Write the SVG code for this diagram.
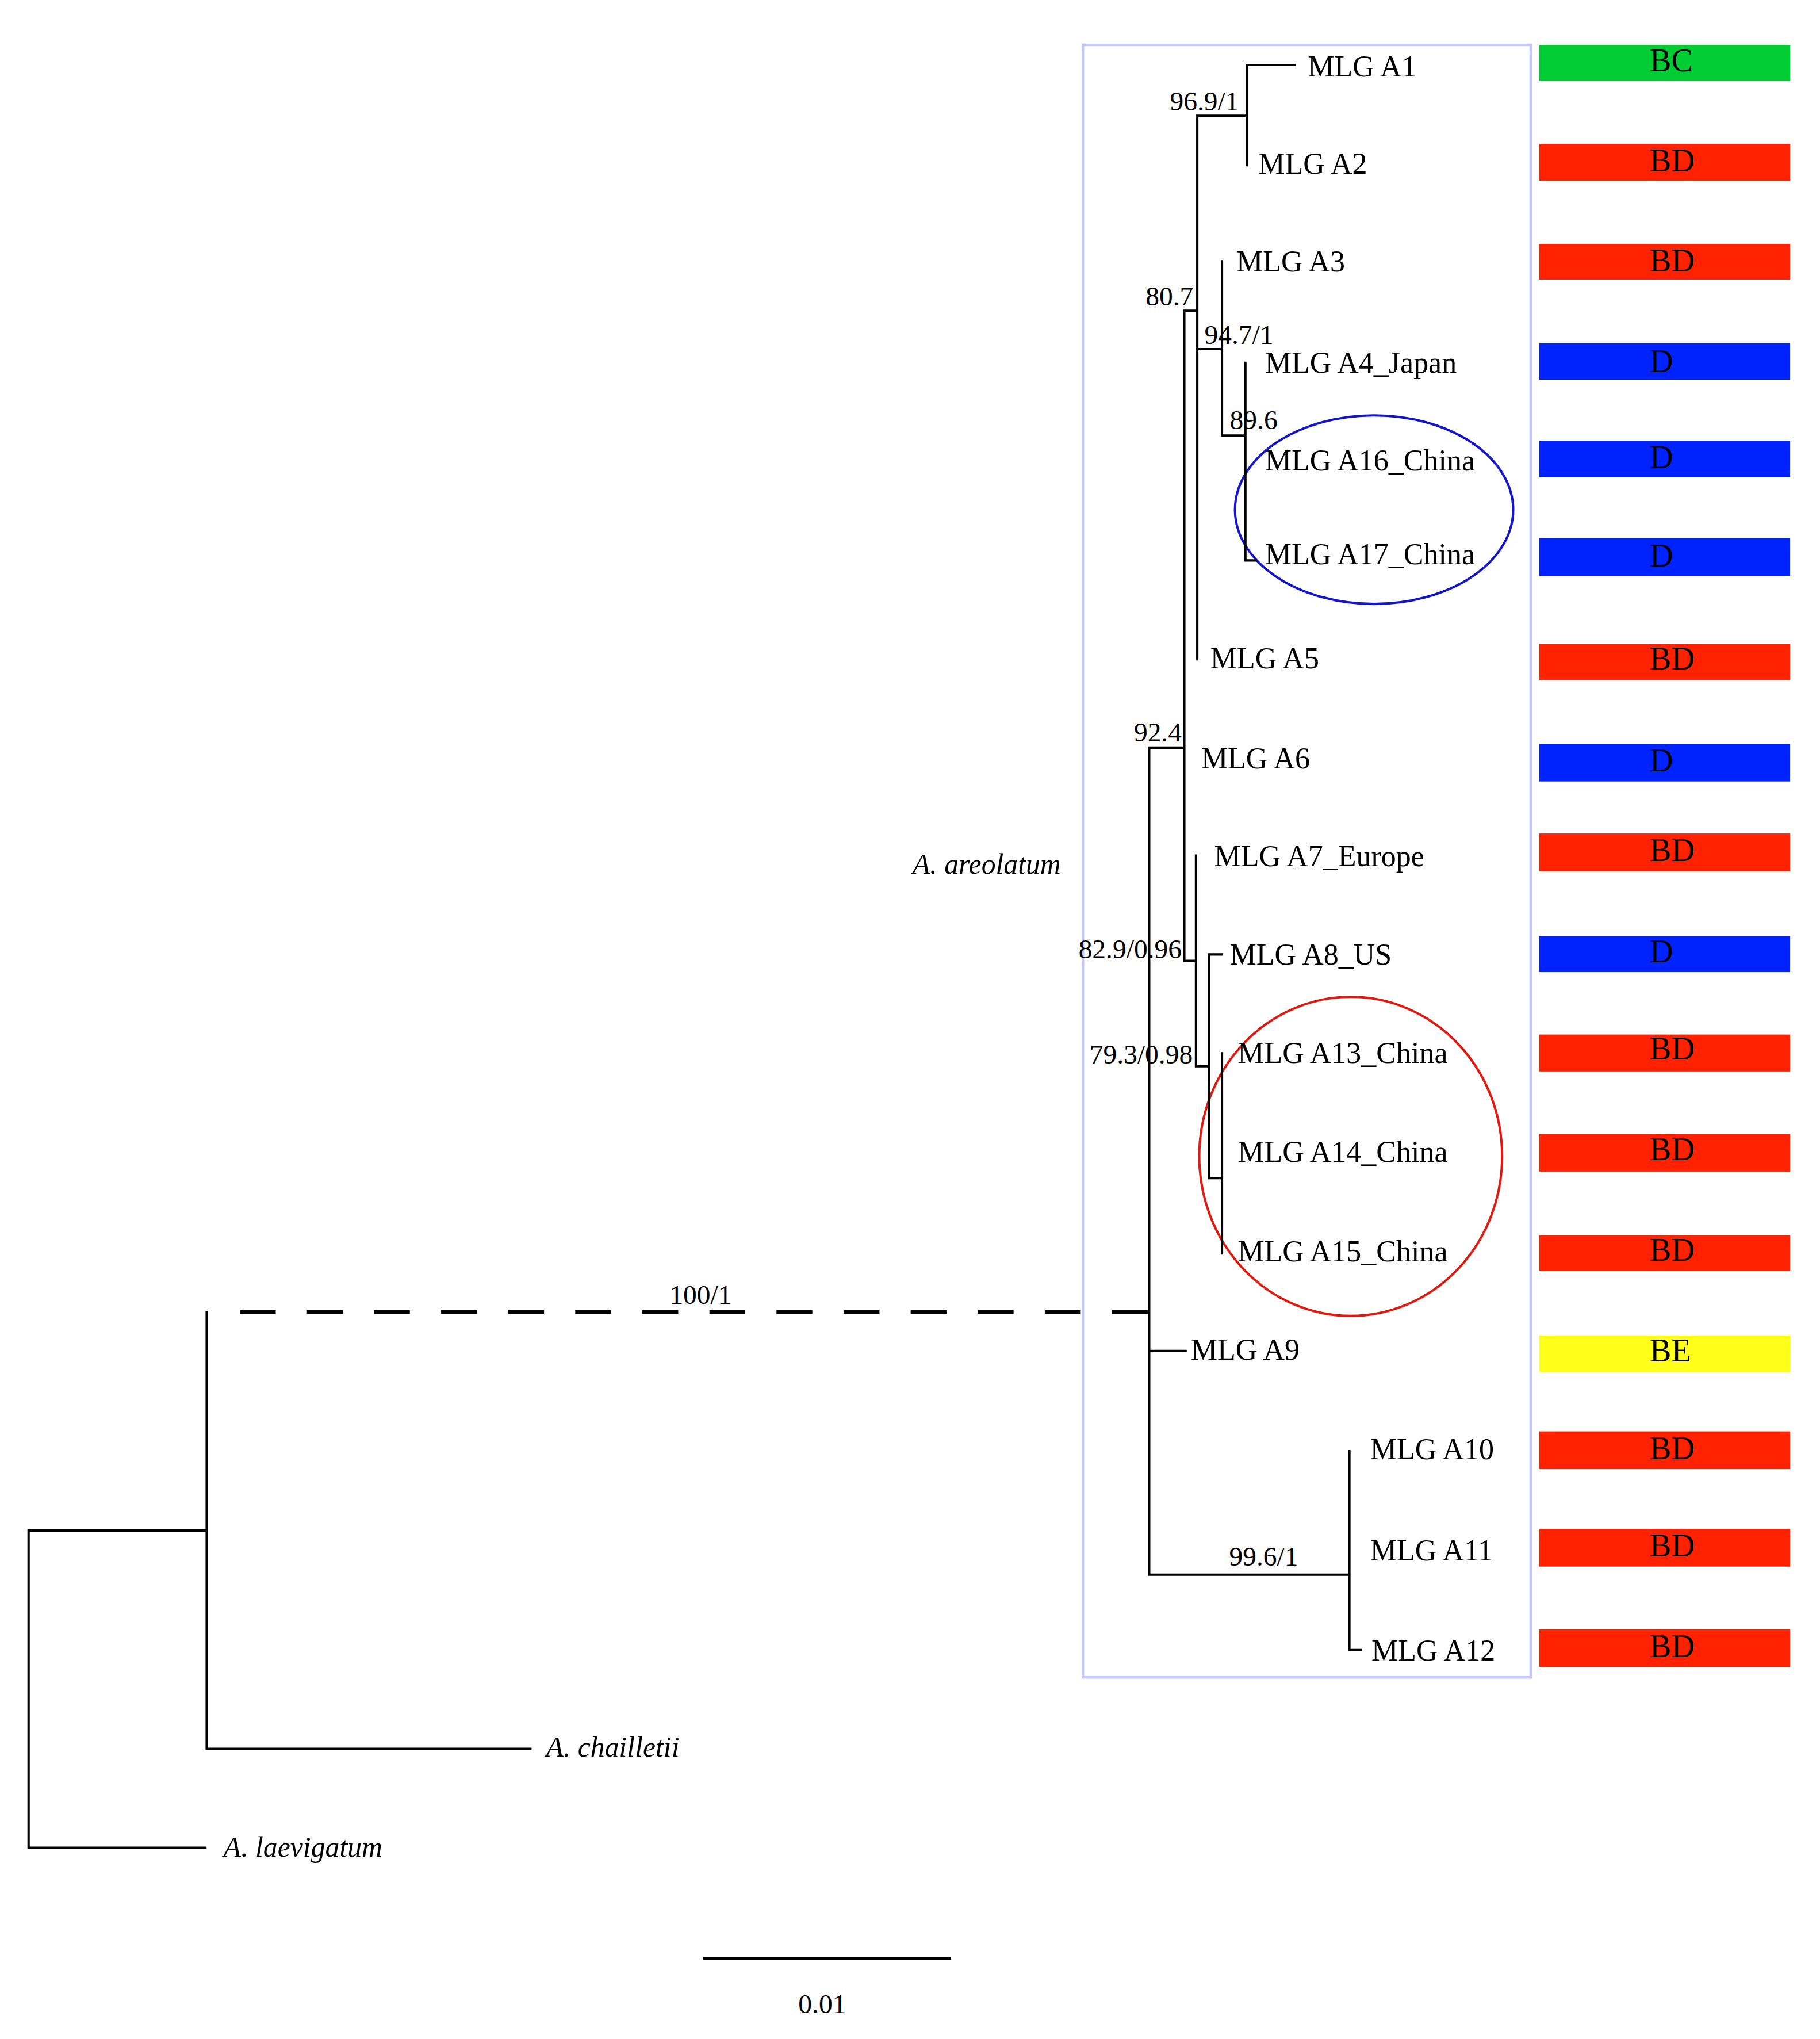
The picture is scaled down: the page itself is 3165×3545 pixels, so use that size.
<svg xmlns="http://www.w3.org/2000/svg" width="3165" height="3545" viewBox="0 0 3165 3545">
<style>
.t{font-family:"Liberation Serif","Times New Roman",serif;fill:#000}
.leaf{font-size:23px}
.bs{font-size:21px}
.bl{font-size:25px}
.it{font-size:22px;font-style:italic}
.br{stroke:#000;stroke-width:1.8;fill:none;stroke-linecap:square}
.dash{stroke:#000;stroke-width:2.6;fill:none;stroke-dasharray:27.6 24}
.bc{fill:#00cc33}
.bd{fill:#ff2200}
.d{fill:#0022ff}
.be{fill:#ffff1a}
</style>
<rect width="3165" height="3545" fill="#ffffff"/>
<g transform="scale(2.2607)">
  <g id="clade-box">
    <rect x="833" y="34.5" width="344.5" height="1255.5" fill="none" stroke="#c4c8ff" stroke-width="2"/>
    <text class="t it" x="702" y="672">A. areolatum</text>
  </g>
  <g id="highlight-ellipses">
    <ellipse cx="1057" cy="392" rx="107" ry="72.5" fill="none" stroke="#1414c8" stroke-width="1.8"/>
    <ellipse cx="1039" cy="889.3" rx="116.5" ry="122.7" fill="none" stroke="#e01a10" stroke-width="1.8"/>
  </g>
  <g id="connectors">
    <path class="br" d="M959,50 H996 M959,50 V127 M921,89 H959 M921,89 V507 M911,239 H921 M921,268.5 H940 M940,201 V335 M940,335 H958 M958,279 V431 H966 M911,239 V739 M884,575 H911 M911,739 H920 M920,658 V820 H930 M930,734 V906 M930,734 H940 M930,906 H940 M940,810 V964 M884,575 V1211 M884,1039 H912 M884,1211 H1038 M1038,1116 V1269 H1047"/>
    <path class="dash" d="M184.5,1009 H884"/>
    <path class="br" d="M159,1009 V1345 H408 M22,1177 H159 M22,1177 V1421 H158"/>
  </g>
  <g id="support-labels">
    <text class="t bs" x="953" y="85" text-anchor="end">96.9/1</text>
    <text class="t bs" x="918" y="235" text-anchor="end">80.7</text>
    <text class="t bs" x="926.5" y="264.5">94.7/1</text>
    <text class="t bs" x="946" y="330">89.6</text>
    <text class="t bs" x="909" y="570" text-anchor="end">92.4</text>
    <text class="t bs" x="909" y="737" text-anchor="end">82.9/0.96</text>
    <text class="t bs" x="917.5" y="818" text-anchor="end">79.3/0.98</text>
    <text class="t bs" x="515" y="1003">100/1</text>
    <text class="t bs" x="945.5" y="1204">99.6/1</text>
  </g>
  <g id="leaf-A1"><text class="t leaf" x="1006" y="59">MLG A1</text></g>
  <g id="leaf-A2"><text class="t leaf" x="968" y="133.5">MLG A2</text></g>
  <g id="leaf-A3"><text class="t leaf" x="951" y="209">MLG A3</text></g>
  <g id="leaf-A4"><text class="t leaf" x="973" y="286.5">MLG A4_Japan</text></g>
  <g id="leaf-A16"><text class="t leaf" x="973" y="362">MLG A16_China</text></g>
  <g id="leaf-A17"><text class="t leaf" x="973" y="434">MLG A17_China</text></g>
  <g id="leaf-A5"><text class="t leaf" x="931" y="514">MLG A5</text></g>
  <g id="leaf-A6"><text class="t leaf" x="924" y="591">MLG A6</text></g>
  <g id="leaf-A7"><text class="t leaf" x="934" y="666">MLG A7_Europe</text></g>
  <g id="leaf-A8"><text class="t leaf" x="946" y="742">MLG A8_US</text></g>
  <g id="leaf-A13"><text class="t leaf" x="952" y="817.5">MLG A13_China</text></g>
  <g id="leaf-A14"><text class="t leaf" x="952" y="893.5">MLG A14_China</text></g>
  <g id="leaf-A15"><text class="t leaf" x="952" y="970">MLG A15_China</text></g>
  <g id="leaf-A9"><text class="t leaf" x="916" y="1045.5">MLG A9</text></g>
  <g id="leaf-A10"><text class="t leaf" x="1054" y="1122">MLG A10</text></g>
  <g id="leaf-A11"><text class="t leaf" x="1054" y="1200">MLG A11</text></g>
  <g id="leaf-A12"><text class="t leaf" x="1055" y="1277">MLG A12</text></g>
  <g id="leaf-chailletii"><text class="t it" x="420" y="1351">A. chailletii</text></g>
  <g id="leaf-laevigatum"><text class="t it" x="172" y="1428">A. laevigatum</text></g>
  <g id="bars">
    <g id="bar-A1"><rect class="bc" x="1184" y="34.6" width="193" height="27.5"/><text class="t bl" x="1269" y="55">BC</text></g>
    <g id="bar-A2"><rect class="bd" x="1184" y="110.6" width="193" height="28.4"/><text class="t bl" x="1269" y="132">BD</text></g>
    <g id="bar-A3"><rect class="bd" x="1184" y="187.6" width="193" height="27.4"/><text class="t bl" x="1269" y="209">BD</text></g>
    <g id="bar-A4"><rect class="d" x="1184" y="264" width="193" height="28"/><text class="t bl" x="1269" y="286">D</text></g>
    <g id="bar-A16"><rect class="d" x="1184" y="339" width="193" height="28"/><text class="t bl" x="1269" y="360">D</text></g>
    <g id="bar-A17"><rect class="d" x="1184" y="414" width="193" height="29"/><text class="t bl" x="1269" y="435.5">D</text></g>
    <g id="bar-A5"><rect class="bd" x="1184" y="495" width="193" height="28"/><text class="t bl" x="1269" y="515">BD</text></g>
    <g id="bar-A6"><rect class="d" x="1184" y="572" width="193" height="29"/><text class="t bl" x="1269" y="593">D</text></g>
    <g id="bar-A7"><rect class="bd" x="1184" y="641" width="193" height="29"/><text class="t bl" x="1269" y="662">BD</text></g>
    <g id="bar-A8"><rect class="d" x="1184" y="720" width="193" height="27.6"/><text class="t bl" x="1269" y="740">D</text></g>
    <g id="bar-A13"><rect class="bd" x="1184" y="795.6" width="193" height="28.4"/><text class="t bl" x="1269" y="815">BD</text></g>
    <g id="bar-A14"><rect class="bd" x="1184" y="872" width="193" height="29"/><text class="t bl" x="1269" y="892">BD</text></g>
    <g id="bar-A15"><rect class="bd" x="1184" y="950" width="193" height="27.6"/><text class="t bl" x="1269" y="969.5">BD</text></g>
    <g id="bar-A9"><rect class="be" x="1184" y="1027" width="193" height="28"/><text class="t bl" x="1269" y="1047">BE</text></g>
    <g id="bar-A10"><rect class="bd" x="1184" y="1100.8" width="193" height="29"/><text class="t bl" x="1269" y="1122">BD</text></g>
    <g id="bar-A11"><rect class="bd" x="1184" y="1175.8" width="193" height="29"/><text class="t bl" x="1269" y="1197">BD</text></g>
    <g id="bar-A12"><rect class="bd" x="1184" y="1253" width="193" height="29"/><text class="t bl" x="1269" y="1274.5">BD</text></g>
  </g>
  <g id="scale-bar">
    <path d="M541,1506 H731.5" stroke="#000" stroke-width="2.2" fill="none"/>
    <text class="t bs" x="632.5" y="1548" text-anchor="middle">0.01</text>
  </g>
</g>
</svg>
